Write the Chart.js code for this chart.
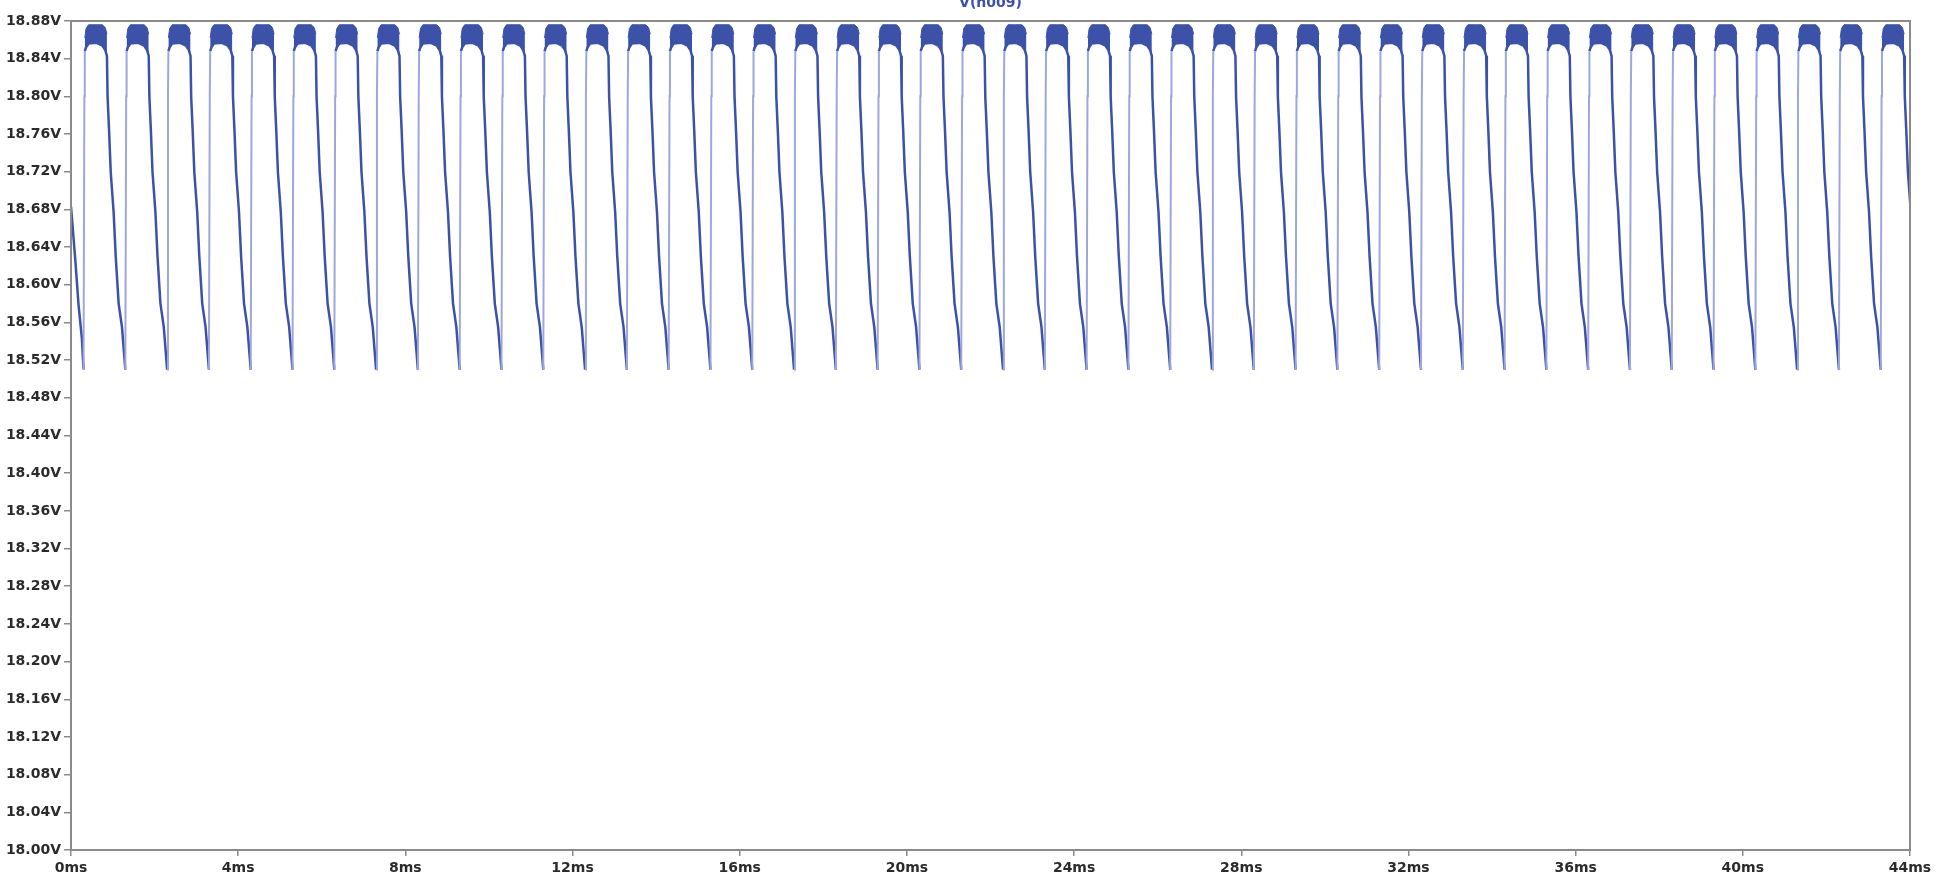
<!DOCTYPE html>
<html>
<head>
<meta charset="utf-8">
<title>V(n009)</title>
<script src="https://cdn.jsdelivr.net/npm/chart.js@4.4.1/dist/chart.umd.min.js"></script>
<style>
  html, body { margin: 0; padding: 0; background: #ffffff; overflow: hidden; }
  canvas { display: block; }
</style>
</head>
<body>
<canvas id="waveChart" width="1938" height="884"></canvas>
<script>
// axis ticks
const xTicksMs = [0, 4, 8, 12, 16, 20, 24, 28, 32, 36, 40, 44];
const yTicksV = [18.00, 18.04, 18.08, 18.12, 18.16, 18.20, 18.24, 18.28, 18.32, 18.36, 18.40, 18.44,
                 18.48, 18.52, 18.56, 18.60, 18.64, 18.68, 18.72, 18.76, 18.80, 18.84, 18.88];

// start of the trace, before the first dip
const leadInMs = [0, 0.10, 0.18, 0.26];
const leadInV = [18.683, 18.628, 18.579, 18.543];

// times of each ripple dip
const cycleStartMs = [0.3, 1.3, 2.3, 3.3, 4.3, 5.3, 6.3, 7.3, 8.3, 9.3, 10.3,
                      11.3, 12.3, 13.3, 14.3, 15.3, 16.3, 17.3, 18.3, 19.3, 20.3, 21.3,
                      22.3, 23.3, 24.3, 25.3, 26.3, 27.3, 28.3, 29.3, 30.3, 31.3, 32.3,
                      33.3, 34.3, 35.3, 36.3, 37.3, 38.3, 39.3, 40.3, 41.3, 42.3, 43.3];
const dipV = 18.51;

// one ripple cycle, offsets in ms from the dip
const riseOffsetMs = 0.02;
const riseV = 18.80;
const capOffsetMs = [0.03, 0.06, 0.12, 0.30, 0.45, 0.52, 0.56];
const capUpperV = [18.862, 18.872, 18.876, 18.876, 18.876, 18.873, 18.866];
const capLowerV = [18.848, 18.852, 18.856, 18.857, 18.854, 18.849, 18.843];
const decayOffsetMs = [0.575, 0.61, 0.65, 0.72, 0.77, 0.84, 0.92];
const decayV = [18.80, 18.765, 18.72, 18.677, 18.63, 18.58, 18.555];

const traceColor = "#3b52a8";
const riseColor = "#9ea6dc";
const frameColor = "#8a8a8a";

// main trace (runs along the lower edge of the top band)
let trace = [];
leadInMs.forEach((t, i) => trace.push({ x: t, y: leadInV[i] }));
cycleStartMs.forEach(t0 => {
    trace.push({ x: t0, y: dipV });
    trace.push({ x: t0 + riseOffsetMs, y: riseV });
    capOffsetMs.forEach((o, i) => trace.push({ x: t0 + o, y: capLowerV[i] }));
    decayOffsetMs.forEach((o, i) => trace.push({ x: t0 + o, y: decayV[i] }));
});

// upper edge of the band, broken between cycles
let upper = [];
cycleStartMs.forEach(t0 => {
    capOffsetMs.forEach((o, i) => upper.push({ x: t0 + o, y: capUpperV[i] }));
    upper.push({ x: t0 + decayOffsetMs[0], y: null });
});

// frame round the plot + the title, cut by the top edge
const framePlugin = {
    id: "frame",
    afterDraw(chart) {
        const ctx = chart.ctx;
        const a = chart.chartArea;
        ctx.save();
        ctx.strokeStyle = frameColor;
        ctx.lineWidth = 2;
        ctx.strokeRect(a.left, a.top, a.right - a.left, a.bottom - a.top);
        ctx.fillStyle = traceColor;
        ctx.font = "bold 14px 'DejaVu Sans'";
        ctx.textAlign = "center";
        ctx.textBaseline = "alphabetic";
        ctx.fillText("V(n009)", (a.left + a.right) / 2, 7);
        ctx.restore();
    }
};

const tickFont = { family: "'DejaVu Sans'", size: 14, weight: "bold" };

new Chart(document.getElementById("waveChart").getContext("2d"), {
    type: "line",
    data: {
        datasets: [{
            label: "V(n009)",
            data: trace,
            borderColor: traceColor,
            borderWidth: 2.5,
            pointRadius: 0,
            tension: 0,
            fill: false,
            segment: {
                borderColor: c => (c.p1.parsed.y - c.p0.parsed.y > 0.03 ? riseColor : undefined),
                borderWidth: c => (c.p1.parsed.y - c.p0.parsed.y > 0.03 ? 2 : undefined)
            }
        }, {
            label: "band",
            data: upper,
            borderColor: traceColor,
            borderWidth: 1,
            backgroundColor: traceColor,
            pointRadius: 0,
            tension: 0,
            spanGaps: false,
            fill: { target: 0 }
        }]
    },
    options: {
        responsive: false,
        animation: false,
        events: [],
        layout: { padding: { top: 21, right: 28, left: 0, bottom: 0 } },
        plugins: {
            legend: { display: false },
            tooltip: { enabled: false },
            title: { display: false }
        },
        scales: {
            x: {
                type: "linear",
                min: 0,
                max: 44,
                afterBuildTicks: s => { s.ticks = xTicksMs.map(v => ({ value: v })); },
                afterFit: s => { s.height = 34; },
                border: { display: false },
                grid: { drawOnChartArea: false, drawTicks: true, tickLength: 6, color: frameColor, lineWidth: 1.5 },
                ticks: {
                    color: "#2b2b2b",
                    font: tickFont,
                    padding: 4,
                    maxRotation: 0,
                    autoSkip: false,
                    callback: v => v + "ms"
                }
            },
            y: {
                type: "linear",
                min: 18.00,
                max: 18.88,
                afterBuildTicks: s => { s.ticks = yTicksV.map(v => ({ value: v })); },
                afterFit: s => { s.width = 71; },
                border: { display: false },
                grid: { drawOnChartArea: false, drawTicks: true, tickLength: 7, color: frameColor, lineWidth: 1.5 },
                ticks: {
                    color: "#2b2b2b",
                    font: tickFont,
                    padding: 3,
                    autoSkip: false,
                    callback: v => v.toFixed(2) + "V"
                }
            }
        }
    },
    plugins: [framePlugin]
});
</script>
</body>
</html>
